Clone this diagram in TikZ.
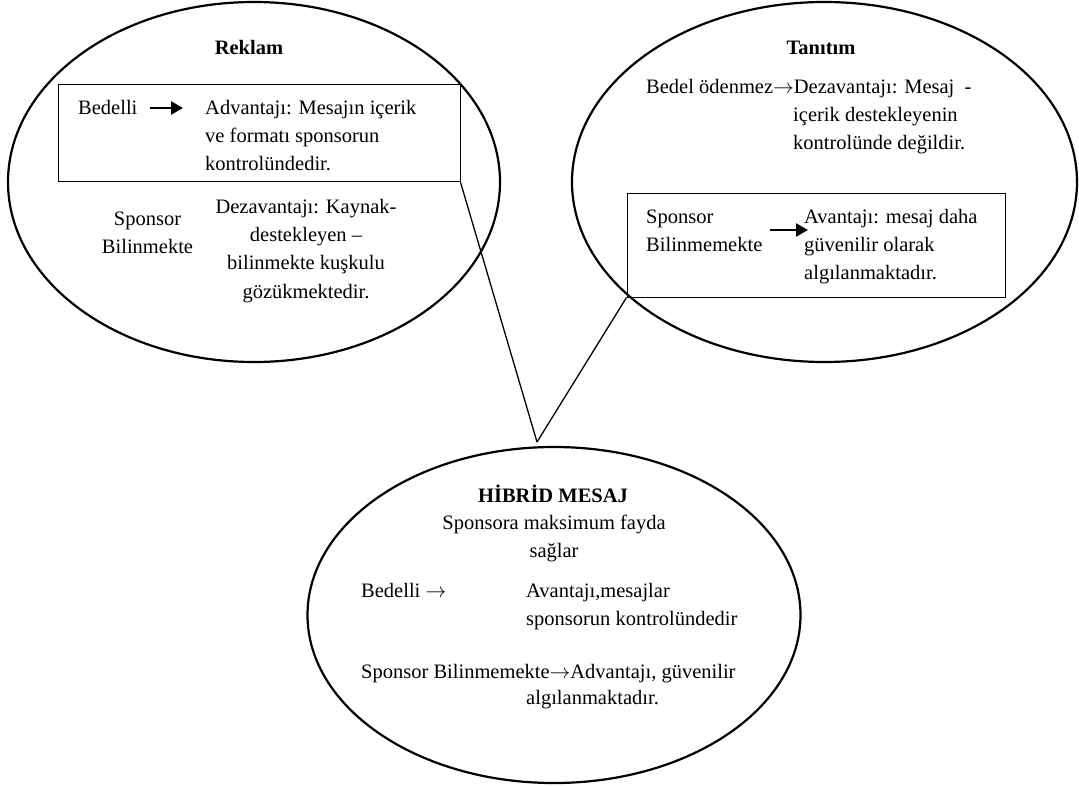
\documentclass[tikz,border=0pt]{standalone}
\usepackage{fontspec}
\setmainfont{Liberation Serif}
\usetikzlibrary{shapes.geometric,arrows.meta}

% stacked lines, baseline on the first line
\newcommand\stackL[1]{\begin{tabular}[t]{@{}l@{}}#1\end{tabular}}
\newcommand\stackC[1]{\begin{tabular}[t]{@{}c@{}}#1\end{tabular}}
% inline right arrow
\newcommand\rarr{\ensuremath{\rightarrow}}

\begin{document}
\begin{tikzpicture}[x=1pt,y=-1pt,
  every node/.style={inner sep=0pt, font=\fontsize{20.5}{28.4}\selectfont},
  oval/.style={draw, ellipse, line width=2.2pt, inner sep=0pt},
  framebox/.style={draw, rectangle, line width=1pt, inner sep=0pt},
  title/.style={font=\fontsize{20.5}{28.4}\selectfont\bfseries, anchor=base},
  txt/.style={anchor=base west},
  ctxt/.style={anchor=base},
  link/.style={line width=1.3pt},
  fatarrow/.style={line width=2.6pt, -{Triangle[length=12pt,width=13pt]}}
]
\useasboundingbox (0,0) rectangle (1079,787);

% the three ovals
\node[oval, minimum width=492pt, minimum height=360pt] (reklam) at (254,182) {};
\node[oval, minimum width=505pt, minimum height=360pt] (tanitim) at (824.5,182) {};
\node[oval, minimum width=493pt, minimum height=336pt] (hibrid) at (554,615) {};

% framed parts
\node[framebox, minimum width=402pt, minimum height=97.5pt] (lbox) at (259,133) {};
\node[framebox, minimum width=378pt, minimum height=104pt] (rbox) at (816,245) {};

% Reklam
\node[title] (rtitle) at (249,54) {Reklam};
\node[txt] (bed1) at (78,114) {Bedelli};
\node[txt] (adv1) at (205,114) {\stackL{Advantajı: Mesajın içerik\\ve formatı sponsorun\\kontrolündedir.}};
\node[ctxt] (spn1) at (147.5,225.5) {\stackC{Sponsor\\Bilinmekte}};
\node[ctxt] (dez1) at (306,213) {\stackC{Dezavantajı: Kaynak-\\destekleyen –\\bilinmekte kuşkulu\\gözükmektedir.}};
\draw[fatarrow] ([xshift=12pt,yshift=6pt]bed1.base east) -- ([xshift=-22pt,yshift=6pt]adv1.base west);

% Tanıtım
\node[title] (ttitle) at (821,54) {Tanıtım};
\node[txt] (tan1) at (646,93) {Bedel ödenmez\rarr Dezavantajı: Mesaj\ \ -};
\node[txt] (tan2) at (793,121) {\stackL{içerik destekleyenin\\kontrolünde değildir.}};
\node[txt] (spn2) at (646,223) {\stackL{Sponsor\\Bilinmemekte}};
\node[txt] (avn2) at (804,223) {\stackL{Avantajı: mesaj daha\\güvenilir olarak\\algılanmaktadır.}};
\draw[fatarrow] ([xshift=7pt,yshift=-7pt]spn2.base east) -- ([xshift=4pt,yshift=-7pt]avn2.base west);

% Hibrid mesaj
\node[title] (htitle) at (553,502) {HİBRİD MESAJ};
\node[ctxt] (fayda) at (554,529) {\stackC{Sponsora maksimum fayda\\sağlar}};
\node[txt] (bed3) at (361,597) {Bedelli \rarr};
\node[txt] (avn3) at (526,597) {\stackL{Avantajı,mesajlar\\sponsorun kontrolündedir}};
\node[txt] (spn3) at (361,678) {Sponsor Bilinmemekte\rarr Advantajı, güvenilir};
\node[txt] (alg3) at (526,704) {algılanmaktadır.};

% callout lines joining the two boxes to the hybrid oval
\coordinate (apex) at (537,442);
\draw[link] (lbox.south east) -- (apex);
\draw[link] (rbox.south west) -- (apex);
\end{tikzpicture}
\end{document}
